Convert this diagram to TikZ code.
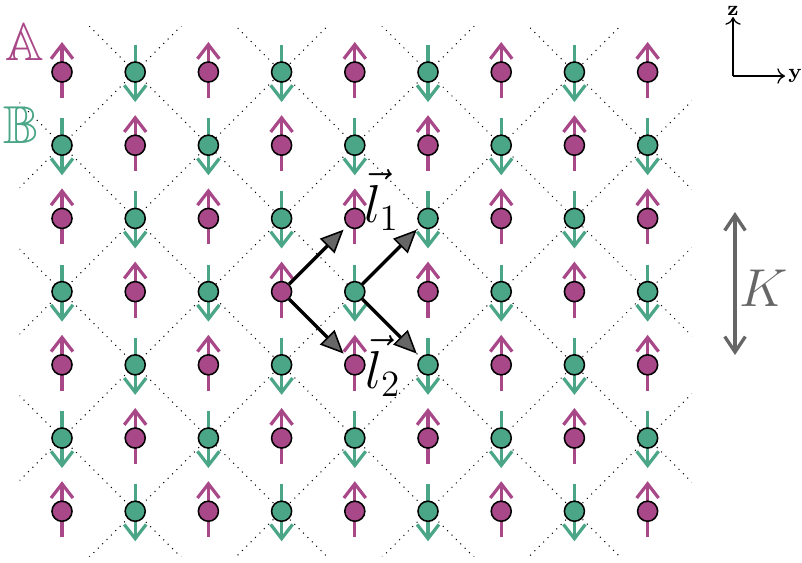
\documentclass[tikz,border=0pt]{standalone}
\usepackage{amsmath}
\usepackage{amssymb}
\usetikzlibrary{arrows.meta,positioning,calc}
\definecolor{spinA}{RGB}{168,72,136}
\definecolor{spinB}{RGB}{74,166,134}
\definecolor{Kgray}{RGB}{102,102,102}

\begin{document}
\begin{tikzpicture}[
        siteA/.style={circle, draw=black, line width=0.6pt, fill=spinA, minimum size=7.8pt, inner sep=0pt},
        siteB/.style={siteA, fill=spinB},
        spinarr/.style={line width=1.25pt, -{Straight Barb[length=5.5pt,width=8.5pt]}},
        lvec/.style={line width=1.3pt, shorten >=2pt, -{Triangle[length=9pt,width=8pt,fill=black!60,line width=0.6pt]}},
        lbl/.style={inner sep=0pt, anchor=base west},
    ]
        \useasboundingbox (-0.847,0.984) rectangle (10.109,-6.694);

        % diamond lattice through the B sites
        \begin{scope}
            \clip (-0.58,0.62) rectangle (8.6,-6.62);
            \foreach \c in {-5,-3,...,7} {
                \draw[dotted] (-1,\c+1) -- (9,\c-9);
            }
            \foreach \c in {1,3,...,13} {
                \draw[dotted] (-1,-1-\c) -- (9,9-\c);
            }
        \end{scope}

        % spins
        \foreach \r in {0,...,6} {
            \foreach \c in {0,...,8} {
                \pgfmathparse{int(mod(\r+\c,2))}
                \ifnum\pgfmathresult=0
                    \draw[spinarr, spinA] (\c,-\r-0.355) -- (\c,-\r+0.41);
                    \node[siteA] (s-\r-\c) at (\c,-\r) {};
                \else
                    \draw[spinarr, spinB] (\c,-\r+0.37) -- (\c,-\r-0.41);
                    \node[siteB] (s-\r-\c) at (\c,-\r) {};
                \fi
            }
        }

        \draw[lvec] (s-3-3) -- (s-2-4);
        \draw[lvec] (s-3-4) -- (s-2-5);
        \draw[lvec] (s-3-3) -- (s-4-4);
        \draw[lvec] (s-3-4) -- (s-4-5);
        \node[lbl] (l1) at (4.12,-2.049) {\huge $\vec{l}_1$};
        \node[lbl] (l2) at (4.14,-4.317) {\huge $\vec{l}_2$};

        \node[text=spinA] (labA) at (-0.505,0.403) {\huge $\mathbb{A}$};
        \node[text=spinB] (labB) at (-0.55,-0.731) {\huge $\mathbb{B}$};

        % axes
        \coordinate (o) at (9.167,-0.055);
        \coordinate (ztip) at (9.167,0.751);
        \coordinate (ytip) at (9.877,-0.055);
        \draw[line width=0.5pt, -{To[length=3pt,width=6pt]}] (o) -- (ztip) node[above, inner sep=0.5pt] (zlab) {\footnotesize\textbf{z}};
        \draw[line width=0.5pt, -{To[length=3pt,width=6pt]}] (o) -- (ytip) node[right, inner sep=1pt] (ylab) {\footnotesize\textbf{y}};

        % anisotropy
        \coordinate (Ktop) at (9.194,-1.913);
        \coordinate (Kbot) at (9.194,-3.866);
        \draw[Kgray, line width=1.3pt, {Straight Barb[length=6pt,width=8pt]}-{Straight Barb[length=6pt,width=8pt]}] (Ktop) -- (Kbot);
        \node[text=Kgray] (Klab) at (9.58,-2.95) {\huge $K$};
    \end{tikzpicture}
\end{document}
